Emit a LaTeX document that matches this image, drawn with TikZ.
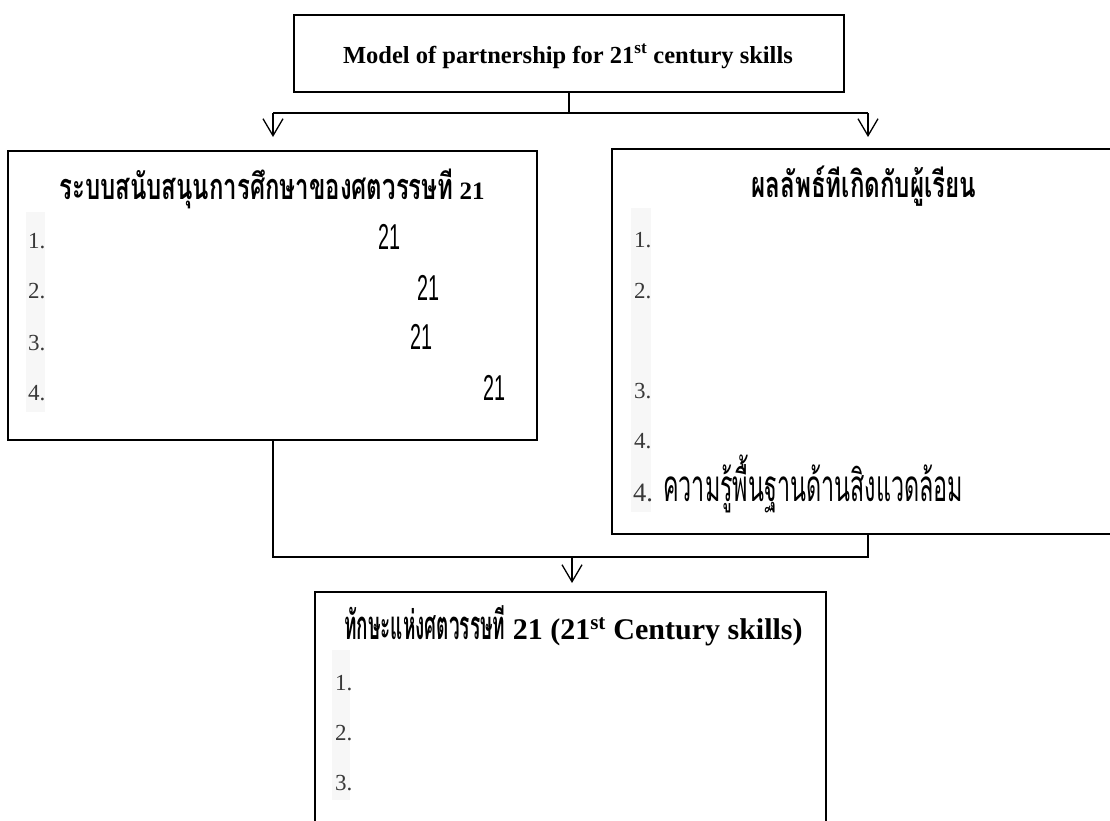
\documentclass[tikz,border=0pt]{standalone}
\usepackage{fontspec}
\usepackage{graphicx}
\setmainfont{Liberation Serif}
\setsansfont{Liberation Sans}
\newfontfamily\thai[Script=Thai]{Loma}
\usetikzlibrary{arrows.meta}
\newcommand\fitw[2]{\resizebox{#1}{\height}{#2}}
\newcommand\twentyone{\fitw{22pt}{\sffamily\fontsize{36}{36}\selectfont 21}}
\tikzset{
  box/.style={draw, line width=1.7pt, rectangle, inner sep=0pt},
  conn/.style={line width=1.5pt},
  arr/.style={line width=1.3pt, -{Straight Barb[length=17pt,width=20pt,line width=1.3pt]}},
  num/.style={anchor=base west, inner sep=0pt, text=black!78, font=\fontsize{23}{23}\selectfont},
  big/.style={anchor=base west, inner sep=0pt},
  ttl/.style={anchor=base, inner sep=0pt},
  strip/.style={fill=black!3, draw=none}
}
\begin{document}
\begin{tikzpicture}[x=1pt,y=-1pt]
\useasboundingbox (0,0) rectangle (1110,820);
\fill[white] (0,0) rectangle (1110,820);
% faint scan strips behind numbers
\fill[strip] (26,212) rectangle (45,412);
\fill[strip] (631,208) rectangle (651,512);
\fill[strip] (332,650) rectangle (350,800);
% boxes
\node[box, minimum width=550pt, minimum height=77pt] (top) at (569,53.5) {};
\node[box, minimum width=529pt, minimum height=289pt] (left) at (272.5,295.5) {};
\node[box, minimum width=504pt, minimum height=385pt] (right) at (864,341.5) {};
\node[box, minimum width=511pt, minimum height=233pt] (bottom) at (570.5,708.5) {};
% titles
\node[ttl, font=\fontsize{24.5}{24.5}\selectfont\bfseries] (toptext) at (568,63) {Model of partnership for 21\textsuperscript{st} century skills};
\node[ttl, font=\fontsize{25}{25}\selectfont\bfseries] (lefttitle) at (272,199) {\fitw{394pt}{\thai\fontsize{36}{36}\selectfont ระบบสนับสนุนการศึกษาของศตวรรษที}\ 21};
\node[ttl] (righttitle) at (864,197) {\fitw{225pt}{\thai\bfseries\fontsize{36}{36}\selectfont ผลลัพธ์ทีเกิดกับผู้เรียน}};
\node[ttl, font=\fontsize{30}{30}\selectfont\bfseries] (bottomtitle) at (573.5,639) {\fitw{161pt}{\thai\fontsize{40}{40}\selectfont ทักษะแห่งศตวรรษที}\ 21 (21\textsuperscript{st} Century skills)};
% left box items
\node[num] (l1) at (28,248) {1.};
\node[num] (l2) at (28,298) {2.};
\node[num] (l3) at (28,350) {3.};
\node[num] (l4) at (28,400) {4.};
\node[big] (l1n) at (378,249) {\twentyone};
\node[big] (l2n) at (417,300) {\twentyone};
\node[big] (l3n) at (410,349) {\twentyone};
\node[big] (l4n) at (483,400) {\twentyone};
% right box items
\node[num] (r1) at (634,247) {1.};
\node[num] (r2) at (634,298) {2.};
\node[num] (r3) at (634,398) {3.};
\node[num] (r4) at (634,448) {4.};
\node[num, font=\fontsize{26.5}{26.5}\selectfont] (r5) at (633,501) {4.};
\node[big] (r5t) at (663,501) {\fitw{300pt}{\thai\fontsize{44}{44}\selectfont ความรู้พื้นฐานด้านสิงแวดล้อม}};
% bottom box items
\node[num] (b1) at (335,690) {1.};
\node[num] (b2) at (335,740) {2.};
\node[num] (b3) at (335,790) {3.};
% connectors
\coordinate (hl) at (273,113);
\coordinate (hr) at (868,113);
\coordinate (tl) at (273,137);
\coordinate (tr) at (868,137);
\coordinate (bl) at (273,557);
\coordinate (br) at (868,557);
\coordinate (bm) at (572,557);
\coordinate (bt) at (572,583);
\draw[conn] (top.south) -- (top.south |- hl);
\draw[conn] (hl) -- (hr);
\draw[arr] (hl) -- (tl);
\draw[arr] (hr) -- (tr);
\draw[conn] (left.south -| bl) -- (bl) -- (br) -- (right.south -| br);
\draw[arr] (bm) -- (bt);
\end{tikzpicture}
\end{document}
